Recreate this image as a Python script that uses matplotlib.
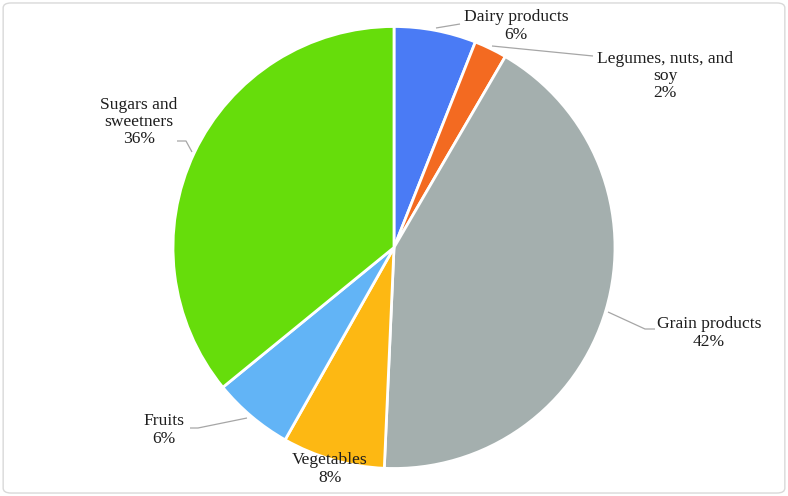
import matplotlib
matplotlib.use("Agg")
import matplotlib.pyplot as plt
from matplotlib.patches import FancyBboxPatch

categories = ["Dairy products", "Legumes, nuts, and\nsoy", "Grain products",
              "Vegetables", "Fruits", "Sugars and\nsweetners"]
values = [6.0, 2.4, 42.3, 7.5, 5.9, 35.9]
pct_labels = ["6%", "2%", "42%", "8%", "6%", "36%"]
colors = ["#4A7BF5", "#F36A21", "#A4AFAE", "#FDB813", "#62B4F6", "#66DD0B"]

W, H = 788, 496
CX, CY, R = 394, 247.5, 221.0

def d(px, py):
    return ((px - CX) / R, -(py - CY) / R)

fig = plt.figure(figsize=(W / 100, H / 100), dpi=100)
ax = fig.add_axes([0, 0, 1, 1])

ax.pie(values, colors=colors, startangle=90, counterclock=False, radius=1.0,
       wedgeprops=dict(edgecolor="white", linewidth=2.0))

ax.set_xlim(d(0, 0)[0], d(W, 0)[0])
ax.set_ylim(d(0, H)[1], d(0, 0)[1])
ax.set_aspect("equal", adjustable="datalim")
ax.axis("off")

# label centres (pixels) and leader lines (pixels)
label_pos = [(516, 26), (665, 76), (709, 333), (330, 469), (164, 430), (139, 122)]
leaders = [
    [(436, 28), (460, 24)],
    [(492, 46), (593, 56)],
    [(608, 312), (645, 329), (655, 329)],
    None,
    [(247, 418), (198, 428), (190, 428)],
    [(192, 152), (186, 141), (177, 141)],
]

for cat, pct, pos, ld in zip(categories, pct_labels, label_pos, leaders):
    x, y = d(*pos)
    ax.text(x, y, f"{cat}\n{pct}", ha="center", va="center", fontsize=12.6,
            family="Liberation Serif", color="#1E1E1E", linespacing=1.1)
    if ld:
        xs = [d(*p)[0] for p in ld]
        ys = [d(*p)[1] for p in ld]
        ax.plot(xs, ys, color="#A6A6A6", lw=0.9, solid_capstyle="butt")

border = FancyBboxPatch((0.004, 0.006), 0.992, 0.988, boxstyle="round,pad=0,rounding_size=0.01",
                        transform=fig.transFigure, fill=False, edgecolor="#D9D9D9", lw=1.0)
fig.patches.append(border)

fig.savefig("out.png", dpi=100)
